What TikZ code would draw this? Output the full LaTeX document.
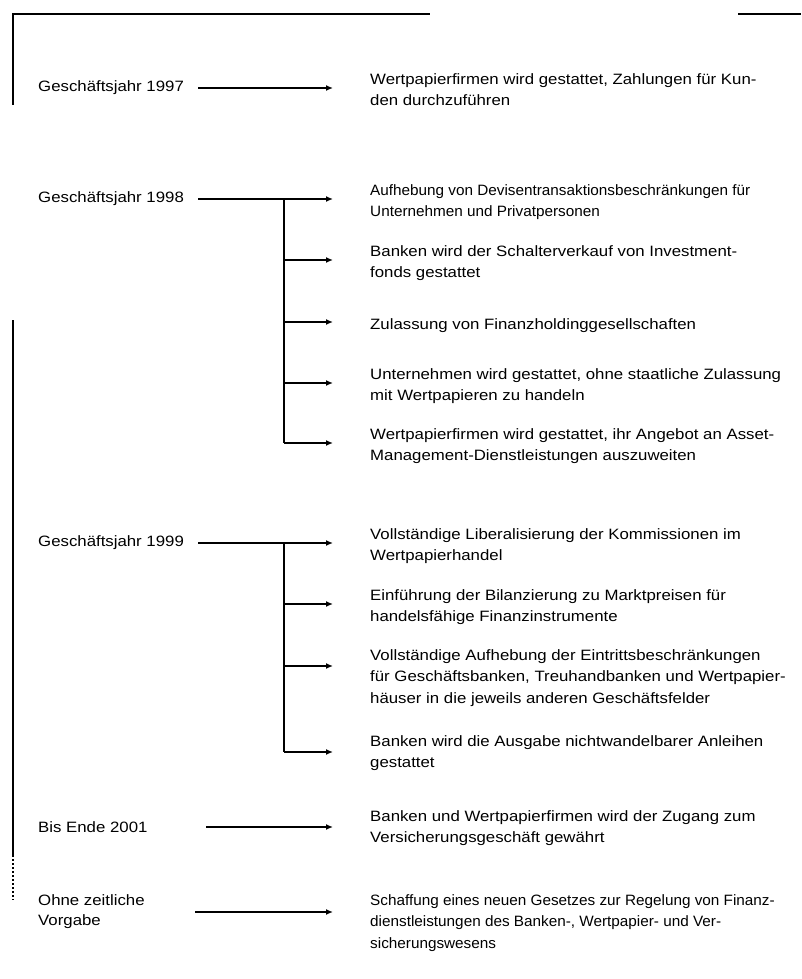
\documentclass[tikz,border=0pt]{standalone}
\usepackage{fontspec}
\setmainfont{Liberation Sans}[FakeStretch=1.12]
\newfontfamily\narrowsans{Liberation Sans}[FakeStretch=1.02]
\usetikzlibrary{arrows.meta}

\tikzset{
  lbl/.style={anchor=west, inner sep=0pt, align=left, font=\fontsize{15}{20}\selectfont},
  txt/.style={anchor=north west, inner sep=0pt, align=left, font=\fontsize{15}{21.5}\selectfont},
  txtnarrow/.style={txt, font=\narrowsans\fontsize{15}{21.5}\selectfont},
  arr/.style={-{Latex[length=7pt,width=6pt]}, line width=1.8pt},
  spine/.style={line width=1.8pt},
  rule/.style={line width=2pt}
}

\begin{document}
\begin{tikzpicture}[x=1pt,y=-1pt]
  \useasboundingbox (0,0) rectangle (801,979);

  % Rahmen
  \draw[rule] (13,105) -- (13,14) -- (430,14);
  \draw[rule] (738,14) -- (801,14);
  \draw[rule] (13,320) -- (13,855);
  \draw[rule, dotted] (13,855) -- (13,900);

  % Geschaeftsjahr 1997
  \node[lbl] (g97) at (38,88) {Geschäftsjahr 1997};
  \node[txt] (t97) at (370,73) {Wertpapierfirmen wird gestattet, Zahlungen für Kun-\\den durchzuführen};
  \coordinate (s97) at (198,88);
  \coordinate (e97) at (333,88);
  \draw[arr] (s97) -- (e97);

  % Geschaeftsjahr 1998
  \node[lbl] (g98) at (38,199) {Geschäftsjahr 1998};
  \coordinate (s98) at (198,199);
  \foreach \y/\n in {199/a,260/b,322/c,383/d,443/e} {
    \coordinate (k98\n) at (284,\y);
    \coordinate (e98\n) at (333,\y);
  }
  \node[txtnarrow] (t98a) at (370,184) {Aufhebung von Devisentransaktionsbeschränkungen für\\Unternehmen und Privatpersonen};
  \node[txt] (t98b) at (370,245) {Banken wird der Schalterverkauf von Investment-\\fonds gestattet};
  \node[txt, anchor=west] (t98c) at (370,326) {Zulassung von Finanzholdinggesellschaften};
  \node[txt] (t98d) at (370,368) {Unternehmen wird gestattet, ohne staatliche Zulassung\\mit Wertpapieren zu handeln};
  \node[txt] (t98e) at (370,428) {Wertpapierfirmen wird gestattet, ihr Angebot an Asset-\\Management-Dienstleistungen auszuweiten};
  \draw[arr] (s98) -- (e98a);
  \draw[spine] (k98a) -- (k98e);
  \foreach \n in {b,c,d,e}
    \draw[arr] (k98\n) -- (e98\n);

  % Geschaeftsjahr 1999
  \node[lbl] (g99) at (38,543) {Geschäftsjahr 1999};
  \coordinate (s99) at (198,543);
  \foreach \y/\n in {543/a,604/b,666/c,752/d} {
    \coordinate (k99\n) at (284,\y);
    \coordinate (e99\n) at (333,\y);
  }
  \node[txt] (t99a) at (370,528) {Vollständige Liberalisierung der Kommissionen im\\Wertpapierhandel};
  \node[txt] (t99b) at (370,589) {Einführung der Bilanzierung zu Marktpreisen für\\handelsfähige Finanzinstrumente};
  \node[txt] (t99c) at (370,649) {Vollständige Aufhebung der Eintrittsbeschränkungen\\für Geschäftsbanken, Treuhandbanken und Wertpapier-\\häuser in die jeweils anderen Geschäftsfelder};
  \node[txt] (t99d) at (370,735) {Banken wird die Ausgabe nichtwandelbarer Anleihen\\gestattet};
  \draw[arr] (s99) -- (e99a);
  \draw[spine] (k99a) -- (k99d);
  \foreach \n in {b,c,d}
    \draw[arr] (k99\n) -- (e99\n);

  % Bis Ende 2001
  \node[lbl] (g01) at (38,827) {Bis Ende 2001};
  \node[txt] (t01) at (370,810) {Banken und Wertpapierfirmen wird der Zugang zum\\Versicherungsgeschäft gewährt};
  \coordinate (s01) at (206,827);
  \coordinate (e01) at (333,827);
  \draw[arr] (s01) -- (e01);

  % Ohne zeitliche Vorgabe
  \node[lbl] (gov) at (38,912) {Ohne zeitliche\\Vorgabe};
  \node[txtnarrow] (tov) at (370,894) {Schaffung eines neuen Gesetzes zur Regelung von Finanz-\\dienstleistungen des Banken-, Wertpapier- und Ver-\\sicherungswesens};
  \coordinate (sov) at (195,912);
  \coordinate (eov) at (333,912);
  \draw[arr] (sov) -- (eov);

\end{tikzpicture}
\end{document}
